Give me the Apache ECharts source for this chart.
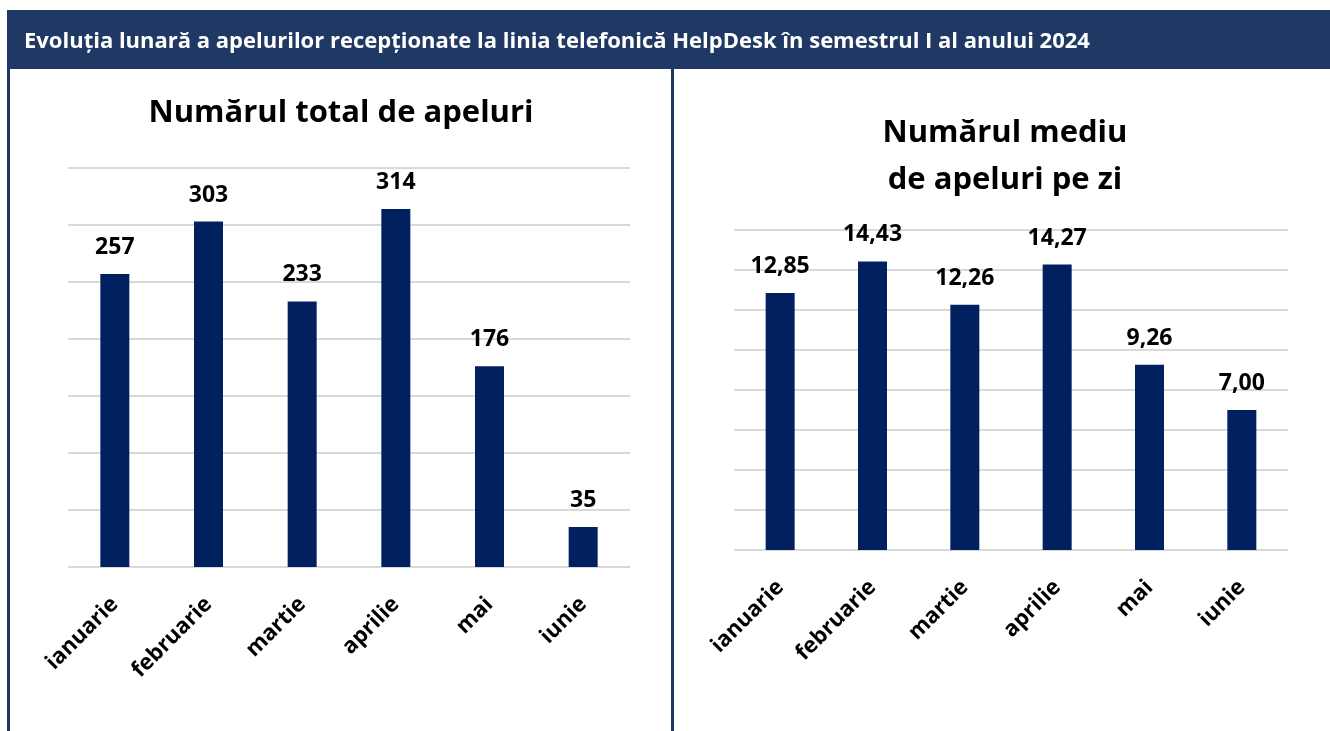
<!DOCTYPE html>
<html><head><meta charset="utf-8">
<script src="https://cdn.jsdelivr.net/npm/echarts@6/dist/echarts.min.js"></script>
<style>html,body{margin:0;padding:0;background:#fff;}#c{width:1330px;height:731px;}</style>
</head><body><div id="c"></div>
<script>
const headerText = 'Evoluția lunară a apelurilor recepționate la linia telefonică HelpDesk în semestrul I al anului 2024';
const leftTitle = 'Numărul total de apeluri';
const rightTitle = 'Numărul mediu\nde apeluri pe zi';
const months = ['ianuarie','februarie','martie','aprilie','mai','iunie'];
const totalCalls = [257, 303, 233, 314, 176, 35];
const avgCalls = [12.85, 14.43, 12.26, 14.27, 9.26, 7.00];

const FONT = '"Open Sans", "Noto Sans", sans-serif';
const NAVY = '#1f3864';
const BAR = '#002060';
const GRID = '#d9d9d9';

const chart = echarts.init(document.getElementById('c'), null, {renderer:'canvas'});
const xAxisCommon = (gi) => ({
  type:'category', gridIndex:gi, data: months,
  axisLine:{show:false}, axisTick:{show:false},
  axisLabel:{rotate:45, fontSize:22, fontWeight:'bold', color:'#000', fontFamily:FONT, margin:34, interval:0}
});
const yAxisCommon = (gi, max, interval) => ({
  type:'value', gridIndex:gi, min:0, max:max, interval:interval,
  axisLabel:{show:false}, axisLine:{show:false}, axisTick:{show:false},
  splitLine:{show:true, lineStyle:{color:GRID, width:2}}
});
chart.setOption({
  animation:false,
  textStyle:{fontFamily:FONT},
  graphic:[
    {type:'rect', shape:{x:7, y:10, width:1323, height:59}, style:{fill:NAVY}, z:0},
    {type:'rect', shape:{x:7, y:69, width:3, height:662}, style:{fill:NAVY}, z:0},
    {type:'rect', shape:{x:671, y:69, width:3, height:662}, style:{fill:NAVY}, z:0}
  ],
  title:[
    {text:headerText, left:19, top:26, textStyle:{color:'#fff', fontSize:22, fontWeight:'bold', fontFamily:FONT}},
    {text:leftTitle, left:336, textAlign:'center', top:93, textStyle:{color:'#000', fontSize:31, fontWeight:'bold', fontFamily:FONT}},
    {text:rightTitle, left:1000, textAlign:'center', top:105, textStyle:{color:'#000', fontSize:31, fontWeight:'bold', fontFamily:FONT, lineHeight:47}}
  ],
  grid:[
    {left:68, right:700, top:168, bottom:164},
    {left:734, right:42, top:230, bottom:181}
  ],
  xAxis:[xAxisCommon(0), xAxisCommon(1)],
  yAxis:[yAxisCommon(0, 350, 50), yAxisCommon(1, 16, 2)],
  series:[
    {type:'bar', xAxisIndex:0, yAxisIndex:0, data: totalCalls, barWidth:29,
     itemStyle:{color:BAR},
     label:{show:true, position:'top', distance:15, fontSize:23, fontWeight:'bold', color:'#000', fontFamily:FONT}},
    {type:'bar', xAxisIndex:1, yAxisIndex:1, data: avgCalls, barWidth:29,
     itemStyle:{color:BAR},
     label:{show:true, position:'top', distance:15, fontSize:23, fontWeight:'bold', color:'#000', fontFamily:FONT,
       formatter: p => p.value.toFixed(2).replace('.', ',')}}
  ]
});
</script></body></html>
